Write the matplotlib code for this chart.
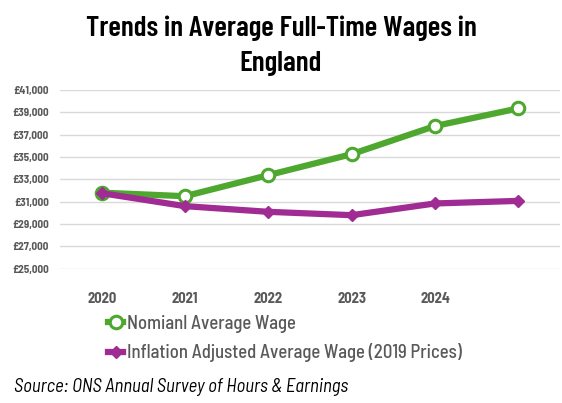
import matplotlib.pyplot as plt

##################################
# Data
years = ['2020', '2021', '2022', '2023', '2024', '']
nominal = [31800, 31480, 33370, 35250, 37770, 39350]  # nominal average wage (GBP)
real = [31750, 30590, 30080, 29780, 30830, 31060]  # inflation adjusted, 2019 prices (GBP)
yticks = list(range(25000, 41001, 2000))

##################################
# Style
plt.rcParams['font.family'] = ['Barlow Semi Condensed', 'DejaVu Sans']
green, purple, grey = '#4EA72E', '#A02B93', '#595959'

##################################
# Plot
fig = plt.figure(figsize=(5.62, 4.03), dpi=100)
ax = fig.add_axes([60/562, 1-268.5/403, 500/562, (268.5-90)/403])
x = range(len(years))
ax.plot(x, nominal, color=green, lw=4.5, marker='o', ms=9, mfc='white', mec=green, mew=2.2,
        label='Nomianl Average Wage', zorder=3)
ax.plot(x, real, color=purple, lw=4.5, marker='D', ms=6, mfc=purple, mec=purple,
        label='Inflation Adjusted Average Wage (2019 Prices)', zorder=4)

ax.set_xlim(-0.5, 5.5)
ax.set_ylim(25000, 41000)
ax.set_yticks(yticks)
ax.set_yticklabels([f'£{v:,}' for v in yticks], fontsize=8, fontweight='bold', color=grey)
ax.set_xticks(list(x))
ax.set_xticklabels(years, fontsize=10.5, fontweight='bold', color=grey)
ax.tick_params(length=0)
ax.tick_params(axis='y', pad=8)
ax.tick_params(axis='x', pad=17)
ax.grid(axis='y', color='#d9d9d9', lw=1)
ax.set_axisbelow(True)
for s in ax.spines.values():
    s.set_visible(False)

fig.text(0.5, 1-46/403, 'Trends in Average Full-Time Wages in\nEngland', ha='center', va='center',
         fontsize=21, fontweight=600, family='Barlow Condensed', linespacing=1.5)

fig.legend(loc='upper left', bbox_to_anchor=(108/562, 1-315/403), frameon=False,
           prop={'size': 13.5, 'weight': 500}, labelcolor=grey, handlelength=0.8, handletextpad=0.2,
           labelspacing=0.55, borderpad=0, borderaxespad=0)

fig.text(14/562, 1-387/403, 'Source: ONS Annual Survey of Hours & Earnings', fontsize=13.5,
         style='italic', va='center', ha='left')

fig.savefig('out.png', dpi=100)
